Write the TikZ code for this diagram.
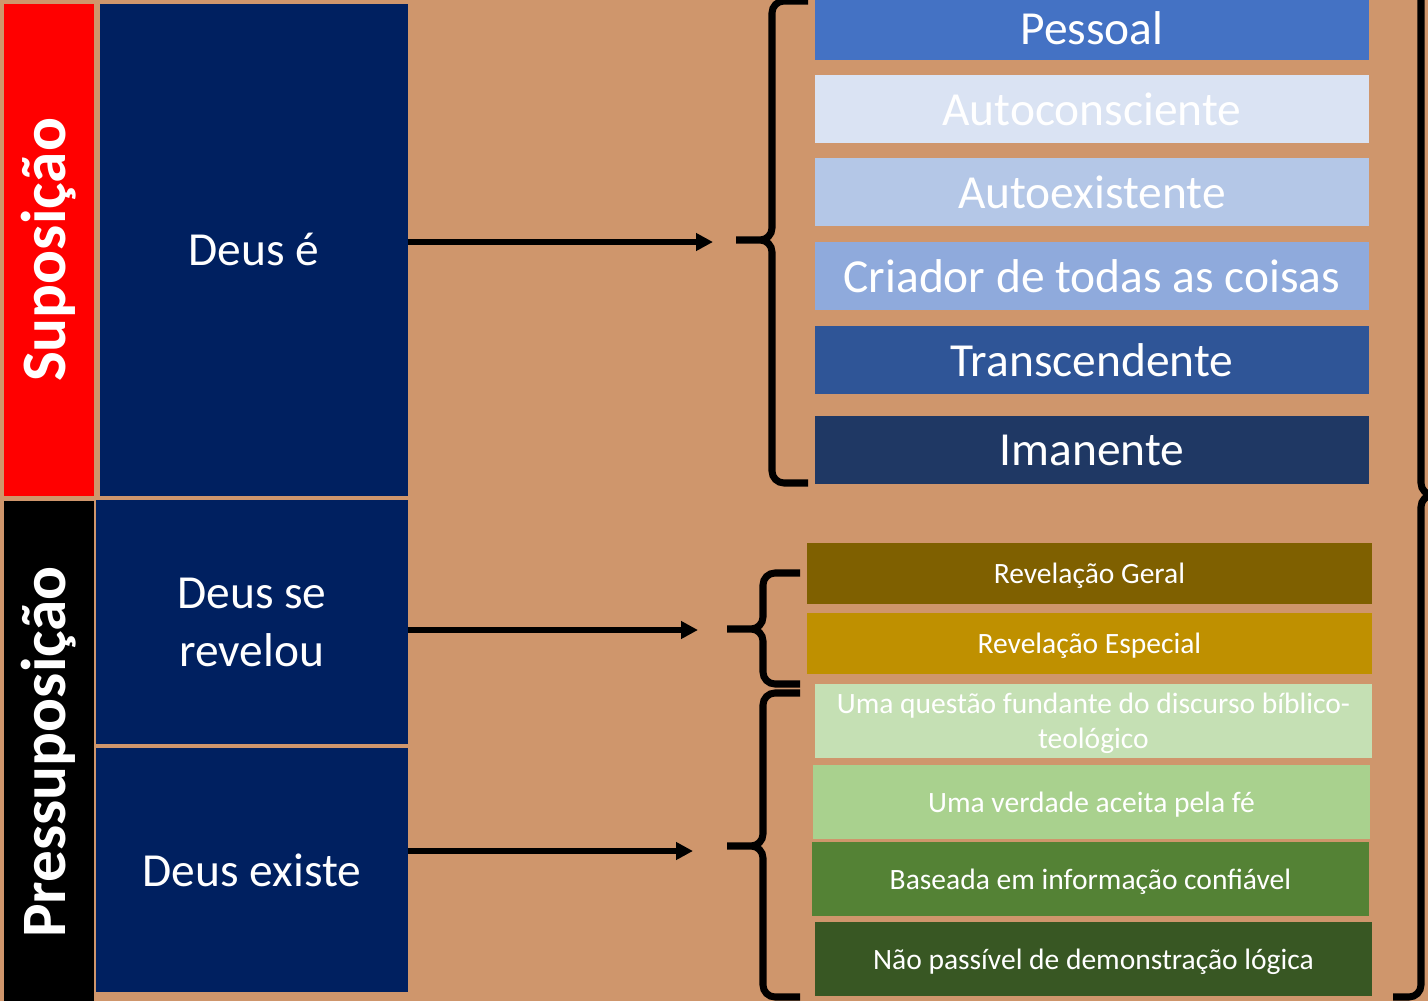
\documentclass[tikz,border=0pt]{standalone}
\usepackage{fontspec}
\setmainfont{Carlito}
\usepackage{tikz}
\usetikzlibrary{arrows.meta}

\definecolor{bgtan}{RGB}{207,150,108}
\definecolor{navy}{HTML}{002060}
\definecolor{bluea}{HTML}{4472C4}
\definecolor{blueb}{HTML}{DAE3F3}
\definecolor{bluec}{HTML}{B4C7E7}
\definecolor{blued}{HTML}{8FAADC}
\definecolor{bluee}{HTML}{2F5597}
\definecolor{bluef}{HTML}{1F3864}
\definecolor{golda}{HTML}{7F6000}
\definecolor{goldb}{HTML}{BF9000}
\definecolor{greena}{HTML}{C5E0B4}
\definecolor{greenb}{HTML}{A9D18E}
\definecolor{greenc}{HTML}{548235}
\definecolor{greend}{HTML}{385723}

\begin{document}
\begin{tikzpicture}[x=0.02cm, y=-0.02cm,
  box/.style={fill=#1, text=white, inner sep=0pt, outer sep=0pt, anchor=north west, align=center},
  big/.style={font=\fontsize{27}{33}\selectfont},
  small/.style={font=\fontsize{16.8}{20}\selectfont, text depth=0pt},
  side/.style={fill=#1, text=white, inner sep=0pt, rotate=90, font=\bfseries\fontsize{36}{40}\selectfont},
  arr/.style={line width=3pt, -{Triangle[length=0.34cm,width=0.34cm]}},
  brace/.style={line width=4pt, rounded corners=0.24cm}]
\useasboundingbox (0,0) rectangle (1428,1001);
\clip (0,0) rectangle (1428,1001);
\fill[bgtan] (0,0) rectangle (1428,1001);
%%% The two side labels
\node[side=red, minimum width=9.84cm, minimum height=1.8cm] (sup) at (49,250) {Suposição};
\node[side=black, minimum width=10.06cm, minimum height=1.8cm] (pre) at (49,752) {Pressuposição};
%%% The three statements
\node[box=navy, big, minimum width=6.16cm, minimum height=9.84cm] (deuse) at (100,4) {Deus é};
\node[box=navy, big, minimum width=6.24cm, minimum height=4.88cm] (revelou) at (96,500) {Deus se\\revelou};
\node[box=navy, big, minimum width=6.24cm, minimum height=4.88cm] (existe) at (96,748) {Deus existe};
%%%%%% The attributes
\node[box=bluea, big, minimum width=11.08cm, minimum height=1.28cm] (pessoal) at (815,-4) {Pessoal};
\node[box=blueb, big, minimum width=11.08cm, minimum height=1.36cm] (autocons) at (815,75) {Autoconsciente};
\node[box=bluec, big, minimum width=11.08cm, minimum height=1.36cm] (autoex) at (815,158) {Autoexistente};
\node[box=blued, big, minimum width=11.08cm, minimum height=1.36cm] (criador) at (815,242) {Criador de todas as coisas};
\node[box=bluee, big, minimum width=11.08cm, minimum height=1.36cm] (transc) at (815,326) {Transcendente};
\node[box=bluef, big, minimum width=11.08cm, minimum height=1.36cm] (imanente) at (815,416) {Imanente};
%%%%%% The revelation
\node[box=golda, small, minimum width=11.3cm, minimum height=1.22cm] (geral) at (807,543) {Revelação Geral};
\node[box=goldb, small, minimum width=11.3cm, minimum height=1.22cm] (especial) at (807,613) {Revelação Especial};
%%%%%% The existence
\node[box=greena, small, minimum width=11.14cm, minimum height=1.48cm] (questao) at (815,684) {Uma questão fundante do discurso bíblico-\\teológico};
\node[box=greenb, small, minimum width=11.14cm, minimum height=1.48cm] (verdade) at (813,765) {Uma verdade aceita pela fé};
\node[box=greenc, small, minimum width=11.14cm, minimum height=1.48cm] (baseada) at (812,842) {Baseada em informação confiável};
\node[box=greend, small, minimum width=11.14cm, minimum height=1.48cm] (nao) at (815,922) {Não passível de demonstração lógica};
%%% The arrows
\coordinate (tipe) at (713,242);
\coordinate (tipr) at (698,630);
\coordinate (tipx) at (693,851);
\draw[arr] (deuse.east |- tipe) -- (tipe);
\draw[arr] (revelou.east |- tipr) -- (tipr);
\draw[arr] (existe.east |- tipx) -- (tipx);
%%% The braces
\draw[brace] (808,1) -- (772,1) -- (772,240) -- (736,240) (736,240) -- (772,240) -- (772,483) -- (808,483);
\draw[brace] (800,573) -- (763,573) -- (763,629) -- (727,629) (727,629) -- (763,629) -- (763,684) -- (800,684);
\draw[brace] (800,693) -- (763,693) -- (763,846) -- (727,846) (727,846) -- (763,846) -- (763,997) -- (800,997);
% the large one on the right edge
\draw[brace] (1393,-20) -- (1421,-20) -- (1421,495) -- (1450,495) (1450,495) -- (1421,495) -- (1421,997) -- (1393,997);
\end{tikzpicture}
\end{document}
